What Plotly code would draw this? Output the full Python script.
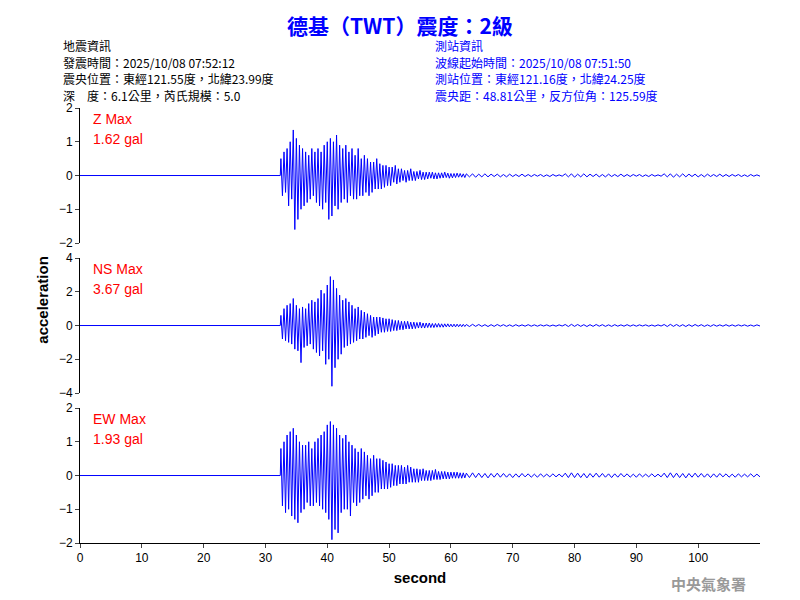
import numpy as np
import plotly.graph_objects as go
from plotly.subplots import make_subplots

# strong-motion part, 0.25 s step starting at 32.5 s
z_main = [0.5,-0.6,0.7,-0.5,0.8,-0.9,1.0,-0.7, 1.35,-1.6,1.1,-1.3,0.9,-1.0,0.8,-0.9,
 0.7,-0.8,0.6,-0.7,0.8,-0.6,0.7,-0.8, 0.8,-0.9,0.7,-1.0,0.9,-0.8,1.0,-1.3,
 1.1,-1.2,1.0,-0.9,1.2,-1.0,0.9,-0.8, 0.8,-0.7,0.9,-0.8,0.7,-0.6,0.8,-0.7,
 0.6,-0.7,0.8,-0.6,0.5,-0.6,0.6,-0.5, 0.5,-0.6,0.4,-0.5,0.4,-0.4,0.5,-0.4,
 0.35,-0.4,0.3,-0.35,0.3,-0.3,0.25,-0.3, 0.25,-0.2,0.3,-0.25,0.2,-0.2,0.2,-0.15,
 0.15,-0.2,0.15,-0.15,0.2,-0.15,0.12,-0.15, 0.12,-0.1,0.15,-0.12,0.1,-0.12,0.1,-0.1,
 0.1,-0.08,0.1,-0.1,0.08,-0.1,0.08,-0.08, 0.08,-0.07,0.1,-0.06,0.07,-0.08,0.06,-0.07,
 0.06,-0.06,0.07,-0.05,0.06,-0.05,0.05,-0.06]
ns_main = [0.6,-0.8,1.0,-0.9,1.2,-1.0,1.3,-1.1, 1.6,-1.4,1.2,-1.5,1.0,-2.2,1.1,-1.3,
 1.0,-1.2,1.3,-1.1,1.5,-1.4,1.4,-1.6, 1.6,-1.8,2.1,-1.5,1.9,-2.3,2.4,-2.0,
 2.9,-3.6,2.7,-2.5,2.2,-2.0,1.8,-1.7, 1.5,-1.3,1.6,-1.2,1.4,-1.1,1.2,-1.0,
 1.0,-0.9,1.1,-0.8,0.9,-0.8,0.8,-0.7, 0.7,-0.6,0.6,-0.7,0.5,-0.6,0.5,-0.5,
 0.5,-0.4,0.45,-0.4,0.4,-0.35,0.4,-0.35, 0.35,-0.3,0.3,-0.3,0.3,-0.25,0.25,-0.25,
 0.25,-0.2,0.25,-0.2,0.2,-0.2,0.2,-0.18, 0.18,-0.15,0.2,-0.15,0.15,-0.15,0.15,-0.12,
 0.15,-0.12,0.12,-0.12,0.12,-0.1,0.12,-0.1, 0.1,-0.1,0.1,-0.08,0.1,-0.08,0.08,-0.08,
 0.08,-0.08,0.08,-0.07,0.07,-0.07,0.07,-0.06]
ew_main = [0.8,-0.9,1.0,-1.1,1.2,-1.0,1.3,-1.2, 1.4,-1.3,1.2,-1.4,1.0,-1.1,0.9,-1.0,
 0.9,-0.8,1.0,-0.9,0.8,-0.9,1.0,-0.8, 1.1,-0.9,1.2,-1.0,1.3,-1.1,1.5,-1.3,
 1.6,-1.9,1.5,-1.6,1.4,-1.7,1.2,-1.1, 1.1,-1.0,1.2,-1.0,1.0,-1.2,0.9,-0.8,
 0.8,-0.9,0.7,-0.8,0.8,-0.7,0.7,-0.6, 0.6,-0.7,0.5,-0.6,0.6,-0.5,0.5,-0.5,
 0.5,-0.4,0.45,-0.4,0.4,-0.4,0.35,-0.35, 0.35,-0.3,0.3,-0.3,0.3,-0.25,0.3,-0.25,
 0.25,-0.25,0.3,-0.2,0.25,-0.2,0.2,-0.2, 0.2,-0.2,0.18,-0.15,0.2,-0.15,0.15,-0.15,
 0.15,-0.15,0.15,-0.12,0.18,-0.12,0.12,-0.12, 0.12,-0.1,0.12,-0.1,0.1,-0.1,0.1,-0.08,
 0.1,-0.08,0.1,-0.08,0.08,-0.08,0.08,-0.07]
# coda tail, 0.5 s step from 62.5 s
z_tail = [0.05,-0.04,0.05,-0.05,0.04,-0.04,0.05,-0.04,0.04,-0.03,0.04,-0.04,0.03,-0.04,0.04,-0.03,
 0.03,-0.03,0.04,-0.03,0.03,-0.03,0.03,-0.02,0.03,-0.03,0.02,-0.03,0.03,-0.02,0.02,-0.02]*3
ns_tail = [0.06,-0.06,0.07,-0.05,0.06,-0.05,0.05,-0.06,0.05,-0.05,0.06,-0.04,0.05,-0.05,0.04,-0.05,
 0.05,-0.04,0.04,-0.04,0.05,-0.04,0.04,-0.04,0.04,-0.03,0.04,-0.04,0.03,-0.04,0.04,-0.03]*3
ew_tail = [0.07,-0.06,0.08,-0.06,0.07,-0.06,0.06,-0.07,0.06,-0.05,0.07,-0.05,0.06,-0.05,0.05,-0.06,
 0.05,-0.05,0.06,-0.04,0.05,-0.05,0.04,-0.05,0.05,-0.04,0.04,-0.04,0.05,-0.04,0.04,-0.04]*3

channels = ["Z Max", "NS Max", "EW Max"]
peaks = ["1.62 gal", "3.67 gal", "1.93 gal"]
yranges = [2, 4, 2]
ytick_step = [1, 2, 1]
left_lines = ["地震資訊", "發震時間：2025/10/08 07:52:12", "震央位置：東經121.55度，北緯23.99度", "深　度：6.1公里，芮氏規模：5.0"]
right_lines = ["測站資訊", "波線起始時間：2025/10/08 07:51:50", "測站位置：東經121.16度，北緯24.25度", "震央距：48.81公里，反方位角：125.59度"]

def series(main, tail):
    t_pre = [0, 32.4]
    t_main = list(32.5 + 0.25*np.arange(len(main)))
    t_tail = list(62.5 + 0.5*np.arange(len(tail)))
    return t_pre + t_main + t_tail, [0, 0] + main + tail

fig = make_subplots(rows=3, cols=1)
doms = [[0.6083, 0.8333], [0.3583, 0.5833], [0.1083, 0.3333]]
for i, (m, tl) in enumerate([(z_main, z_tail), (ns_main, ns_tail), (ew_main, ew_tail)]):
    t, v = series(m, tl)
    fig.add_trace(go.Scatter(x=t, y=v, mode="lines", line=dict(color="#0000ff", width=1),
                             showlegend=False), row=i+1, col=1)
    r = yranges[i]
    ax = "" if i == 0 else str(i+1)
    fig.layout["yaxis"+ax].update(domain=doms[i], range=[-r, r], tickvals=list(range(-r, r+1, ytick_step[i])),
        showline=True, linecolor="black", ticks="outside", ticklen=4, showgrid=False, zeroline=False,
        tickfont=dict(family="Arial", size=12, color="black"))
    fig.layout["xaxis"+ax].update(domain=[0.09, 0.94], range=[0, 110], showgrid=False, zeroline=False,
        showline=(i == 2), linecolor="black", ticks="outside" if i == 2 else "", ticklen=4,
        tickvals=list(range(0, 101, 10)), showticklabels=(i == 2),
        tickfont=dict(family="Arial", size=12, color="black"))
    for k, txt in enumerate([channels[i], peaks[i]]):
        fig.add_annotation(xref="paper", yref="paper", x=0.105, y=doms[i][1]-0.003-k*0.034,
            xanchor="left", yanchor="top", text=txt, showarrow=False, borderpad=0,
            font=dict(family="Arial", size=14, color="red"))

fig.layout.xaxis3.title = dict(text="<b>second</b>", font=dict(family="Arial", size=15, color="black"), standoff=8)
cjk = "Noto Sans CJK TC"
fig.add_annotation(xref="paper", yref="paper", x=0.49, y=0.999, xanchor="center", yanchor="top", showarrow=False,
    text="<b>德基（TWT）震度：2級</b>", font=dict(family=cjk, size=21, color="#0000ff"), borderpad=0)
for k in range(4):
    yy = 0.953 - k*16.5/600
    fig.add_annotation(xref="paper", yref="paper", x=0.068, y=yy, xanchor="left", yanchor="top", showarrow=False,
        text=left_lines[k], font=dict(family=cjk, size=12, color="black"), borderpad=0)
    fig.add_annotation(xref="paper", yref="paper", x=0.533, y=yy, xanchor="left", yanchor="top", showarrow=False,
        text=right_lines[k], font=dict(family=cjk, size=12, color="#0000ff"), borderpad=0)
fig.add_annotation(xref="paper", yref="paper", x=0.03, y=0.513, textangle=-90, showarrow=False,
    text="<b>acceleration</b>", font=dict(family="Arial", size=15, color="black"))
fig.add_annotation(xref="paper", yref="paper", x=0.925, y=0.02, xanchor="right", yanchor="bottom", showarrow=False,
    text="<b>中央氣象署</b>", font=dict(family=cjk, size=15, color="#999999"))

fig.update_layout(width=800, height=600, margin=dict(l=0, r=0, t=0, b=0, autoexpand=False),
                  plot_bgcolor="white", paper_bgcolor="white")
fig.write_html("out.html")
